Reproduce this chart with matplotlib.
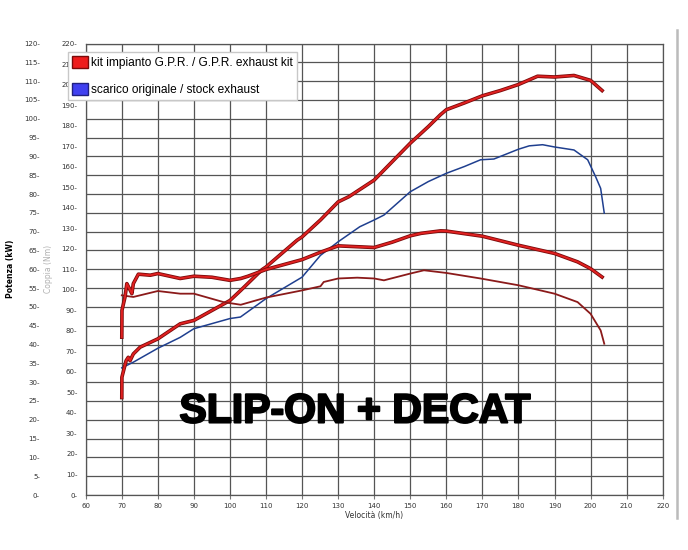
import numpy as np
import matplotlib
matplotlib.use('Agg')
import matplotlib.pyplot as plt
import matplotlib.patheffects as pe
from matplotlib.patches import Patch
from matplotlib.lines import Line2D
from matplotlib.ticker import FuncFormatter

# dati (velocità km/h, potenza kW, coppia Nm)
speed_ticks = list(range(60, 221, 10))
power_ticks = list(range(0, 121, 5))
torque_ticks = list(range(0, 221, 10))

gpr_power_v = [70.0, 70.03, 71.2, 71.8, 72.3, 73.2, 75.1, 80, 86.2, 90, 100, 103, 108.9, 110,
               118.6, 120, 125.1, 130, 133, 140, 145, 150, 155, 158.4, 160, 165, 170, 175,
               180, 185.3, 190, 195.4, 200, 203.2]
gpr_power_kw = [25.9, 31.3, 35.7, 36.6, 35.7, 37.5, 39.3, 41.5, 45.5, 46.4, 51.7, 54.4, 59.9, 60.6,
                67.7, 68.6, 73.1, 77.9, 79.3, 83.7, 88.6, 93.5, 97.9, 101.1, 102.4, 104.2, 106.1, 107.5,
                109.1, 111.3, 111.1, 111.5, 110.2, 107.5]

stock_power_v = [70.0, 73.2, 80, 86.2, 90, 100, 102.9, 110, 120, 125.1, 130, 136, 140, 142.7,
                 150, 155, 160, 165, 169.5, 173.2, 180, 183, 186.7, 190, 195.4, 199.2, 201.4,
                 202.8, 203.8]
stock_power_kw = [33.8, 35.3, 39.0, 41.9, 44.2, 46.9, 47.3, 52.2, 57.9, 63.7, 67.3, 71.3, 73.1, 74.4,
                  80.6, 83.3, 85.5, 87.3, 89.1, 89.3, 91.9, 92.8, 93.1, 92.5, 91.7, 89.1, 84.6,
                  81.5, 74.9]

gpr_torque_v = [70.0, 70.05, 70.9, 71.4, 72.1, 72.8, 73.2, 74.6, 77.9, 80, 86.2, 90, 95, 100,
                103, 105, 110, 120, 125.1, 130, 135, 140, 145, 150, 153, 158.4, 160, 170, 180,
                190, 196.4, 200, 203.2]
gpr_torque_nm = [76.9, 90.0, 96.5, 103.0, 100.6, 98.1, 103.0, 107.6, 107.1, 107.9, 105.5, 106.6, 106.1, 104.6,
                 105.5, 106.6, 109.9, 114.7, 118.3, 121.4, 121.0, 120.6, 123.2, 126.3, 127.5, 128.7, 128.6,
                 126.1, 121.7, 117.7, 113.6, 110.3, 106.2]

stock_torque_v = [70.0, 73.2, 80, 86.2, 90, 98.2, 100, 103, 110, 120, 125.1, 126, 130, 135.3,
                  140, 142.7, 150, 153.8, 160, 169.5, 180, 190, 196.4, 200, 202.8, 203.8]
stock_torque_nm = [97.3, 96.5, 99.4, 98.1, 98.1, 94.0, 93.5, 92.7, 96.2, 99.7, 101.7, 103.8, 105.5, 105.9,
                   105.5, 104.6, 107.9, 109.5, 108.2, 105.5, 102.2, 98.1, 94.0, 88.3, 80.2, 73.7]

label_gpr = 'kit impianto G.P.R. / G.P.R. exhaust kit'
label_stock = 'scarico originale / stock exhaust'

fig = plt.figure(figsize=(6.88, 5.5), dpi=100)
fig.patch.set_facecolor('white')
ax = fig.add_axes([0.1246, 0.1, 0.8386, 0.8209])

ax.set_xlim(60, 220)
ax.set_ylim(0, 120)
ax.set_xticks(speed_ticks)
ax.set_yticks(power_ticks)
ax.grid(True, color='#555555', lw=0.9)
ax.set_axisbelow(True)
for s in ax.spines.values():
    s.set_color('#555555')
    s.set_linewidth(0.9)

ax.yaxis.set_major_formatter(FuncFormatter(lambda v, p: f'{int(v)}-'))
ax.tick_params(axis='y', length=0, pad=33, labelsize=5, labelcolor='#333333')
ax.tick_params(axis='x', length=3, pad=3, labelsize=5, labelcolor='#333333', color='#777777')
ax.set_xlabel('Velocità (km/h)', fontsize=5.5, labelpad=1, color='#333333')
ax.set_ylabel('Potenza (kW)', fontsize=5.5, fontweight='bold')
ax.yaxis.set_label_coords(-0.1225, 0.5)

# asse coppia, anche lui a sinistra
axt = ax.twinx()
axt.set_ylim(0, 220)
axt.set_yticks(torque_ticks)
axt.yaxis.set_ticks_position('left')
axt.yaxis.set_label_position('left')
axt.yaxis.set_major_formatter(FuncFormatter(lambda v, p: f'{int(v)}-'))
axt.tick_params(axis='y', length=0, pad=6, labelsize=5, labelcolor='#333333')
for s in axt.spines.values():
    s.set_visible(False)
axt.set_ylabel('Coppia (Nm)', fontsize=5.5, color='#b0b0b0')
axt.yaxis.set_label_coords(-0.0567, 0.5)

thick = [pe.Stroke(linewidth=2.6, foreground='#7a0a0a'), pe.Normal()]

ax.plot(stock_power_v, stock_power_kw, color='#1f3f8f', lw=1.1)
ax.plot(gpr_power_v, gpr_power_kw, color='#e02020', lw=1.4, path_effects=thick)
axt.plot(stock_torque_v, stock_torque_nm, color='#8b1a1a', lw=1.3)
axt.plot(gpr_torque_v, gpr_torque_nm, color='#e02020', lw=1.4, path_effects=thick)

fig.text(355 / 688, 1 - 411.5 / 550, 'SLIP-ON + DECAT', ha='center', va='center',
         fontsize=29.5, fontweight='bold', family=['Liberation Sans', 'DejaVu Sans'],
         path_effects=[pe.Stroke(linewidth=1.5, foreground='black'), pe.Normal()])

handles = [Patch(facecolor='#ee1c1c', edgecolor='#7a0a0a', label=label_gpr),
           Patch(facecolor='#4040f0', edgecolor='#202080', label=label_stock)]
fig.legend(handles=handles, loc='upper left', bbox_to_anchor=(68 / 688, 1 - 52 / 550),
           frameon=True, fancybox=False, edgecolor='#c8c8c8', framealpha=1,
           prop={'family': 'Liberation Sans', 'size': 8.6}, handlelength=1.3, handleheight=1.1,
           handletextpad=0.3, labelspacing=1.2, borderpad=0.35, borderaxespad=0)

fig.add_artist(Line2D([677 / 688, 677 / 688], [1 - 30 / 550, 1 - 518 / 550], color='#bbbbbb', lw=1.8))

fig.savefig('out.png', dpi=100)
